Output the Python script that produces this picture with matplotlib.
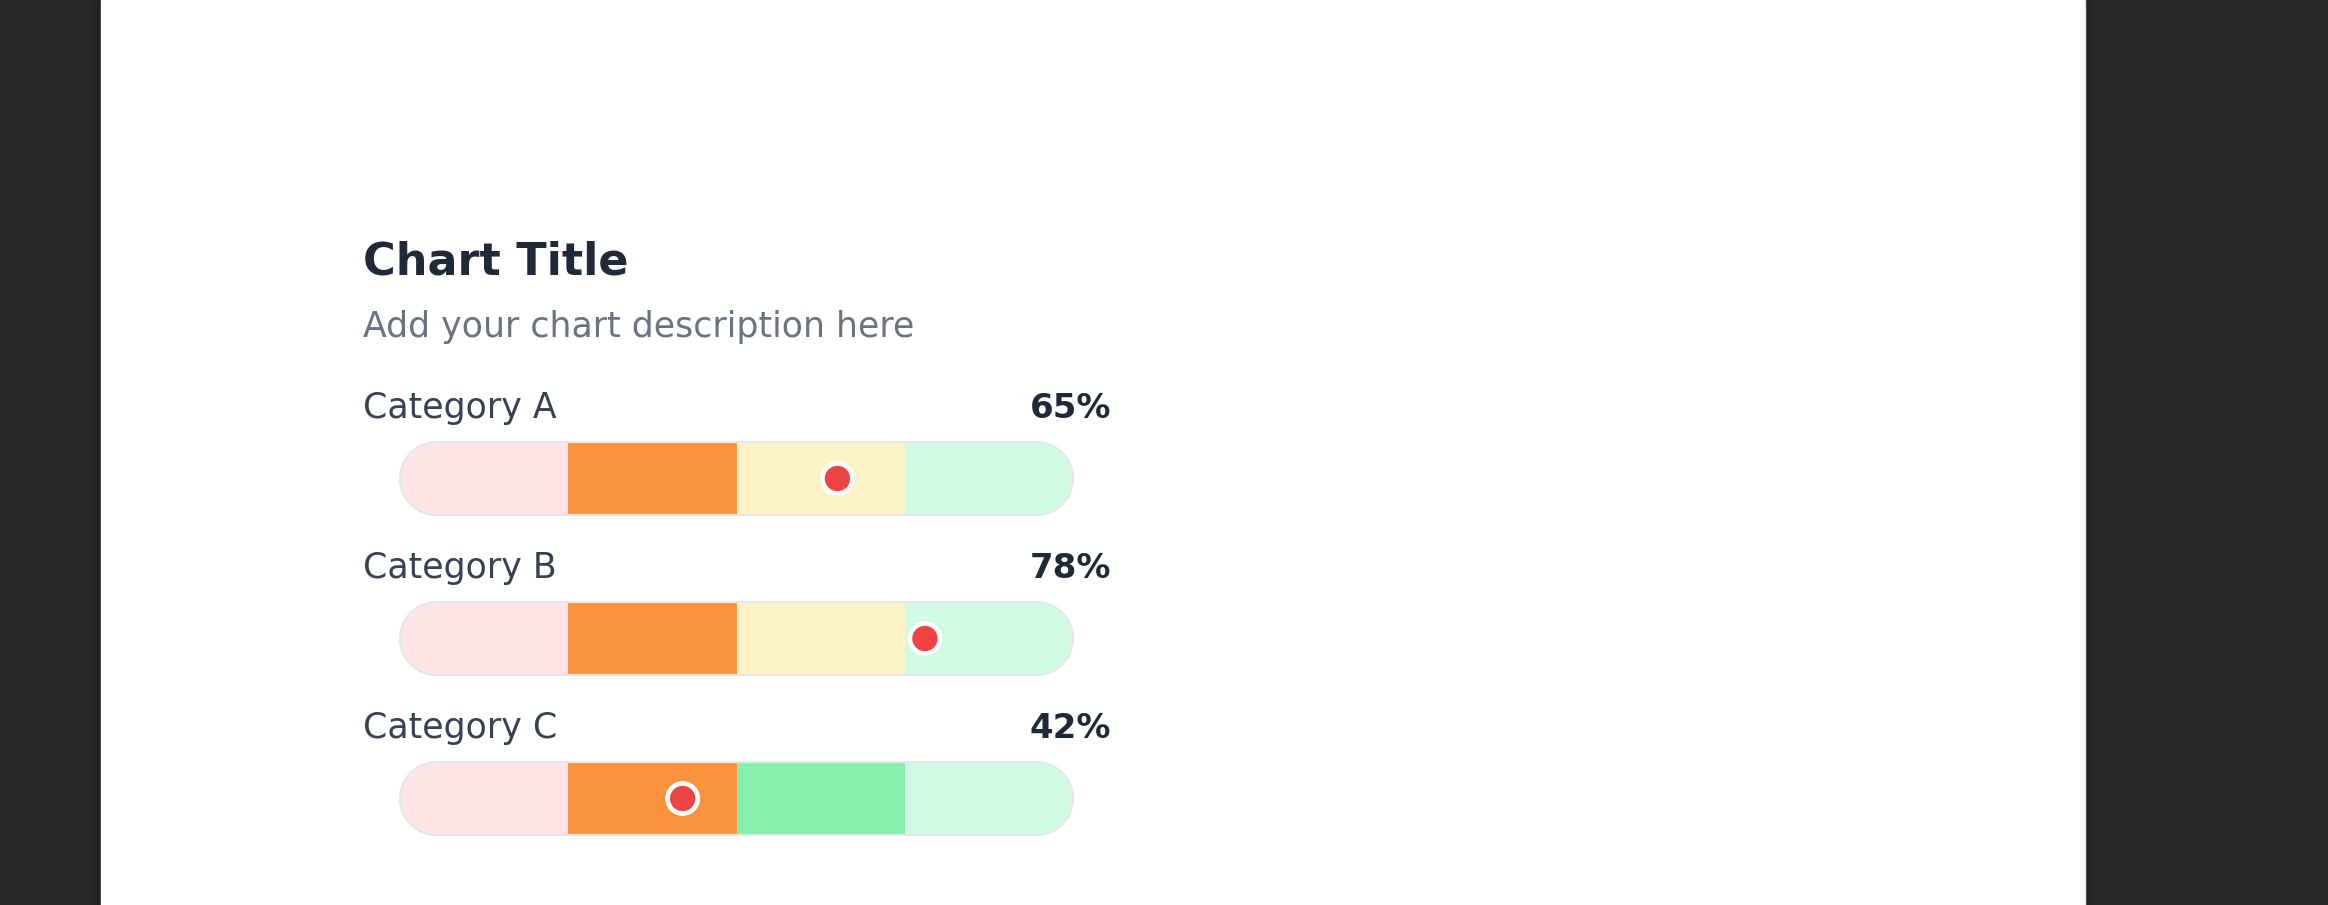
import matplotlib
matplotlib.use("Agg")
import numpy as np
import matplotlib.pyplot as plt
from matplotlib.patches import Rectangle, Polygon
import matplotlib.patheffects as pe

# chart data
categories = ["Category A", "Category B", "Category C"]
values = [65, 78, 42]
segment_starts = [0, 25, 50, 75]
segment_widths = [25, 25, 25, 25]
row_colors = [
    ["#ffe4e6", "#fb923c", "#fef3c7", "#d1fae5"],
    ["#ffe4e6", "#fb923c", "#fef3c7", "#d1fae5"],
    ["#ffe4e6", "#fb923c", "#86efac", "#d1fae5"],
]
title = "Chart Title"
subtitle = "Add your chart description here"

# layout (pixels)
W, H = 2328, 905
panel_left, panel_right = 101, 2085
text_left = 363
bar_left, bar_right = 400, 1073
bar_top = 442
bar_h_px = 73
row_gap = 160
pct_right = 1111

fig = plt.figure(figsize=(W / 100, H / 100), dpi=100)

# background in pixel coords
bg = fig.add_axes([0, 0, 1, 1])
bg.set_xlim(0, W)
bg.set_ylim(H, 0)
bg.axis("off")
bg.add_patch(Rectangle((0, 0), W, H, color="#282828", zorder=0))
bg.add_patch(Rectangle((panel_left, 0), panel_right - panel_left, H, color="white", zorder=1))
for k in range(10):
    a = 0.10 * (1 - k / 10)
    bg.add_patch(Rectangle((panel_left - k - 1, 0), 1, H, color="black", alpha=a, lw=0, zorder=1))
    bg.add_patch(Rectangle((panel_right + k, 0), 1, H, color="black", alpha=a, lw=0, zorder=1))

# title / subtitle
bg.text(text_left, 274, title, fontsize=32, fontweight="bold", color="#1f2937",
        ha="left", va="baseline", zorder=2)
bg.text(text_left, 337, subtitle, fontsize=25, color="#6b7280",
        ha="left", va="baseline", zorder=2)

# row labels
for i, (cat, v) in enumerate(zip(categories, values)):
    y = 418 + i * row_gap
    bg.text(text_left, y, cat, fontsize=25, color="#374151",
            ha="left", va="baseline", zorder=2)
    bg.text(pct_right, y, f"{v}%", fontsize=24.5, fontweight="bold", color="#1f2937",
            ha="right", va="baseline", zorder=2)

# bars axes, x is 0..100
n = len(categories)
bar_w_px = bar_right - bar_left
ax_h_px = (n - 1) * row_gap + bar_h_px
ax = fig.add_axes([bar_left / W, 1 - (bar_top + ax_h_px) / H, bar_w_px / W, ax_h_px / H])
bar_h = bar_h_px / row_gap
half = bar_h / 2
ax.set_xlim(0, 100)
ax.set_ylim(n - 1 + half, -half)
ax.axis("off")

# pill outline: semicircle ends, radius in x units
rx = (bar_h_px / 2) / (bar_w_px / 100)
t_left = np.linspace(np.pi / 2, 3 * np.pi / 2, 60)
t_right = np.linspace(-np.pi / 2, np.pi / 2, 60)


def pill(yc):
    xs = np.concatenate([rx + rx * np.cos(t_left), 100 - rx + rx * np.cos(t_right)])
    ys = np.concatenate([yc + half * np.sin(t_left), yc + half * np.sin(t_right)])
    return np.column_stack([xs, ys])


for i in range(n):
    frame = Polygon(pill(i), closed=True, facecolor="none",
                    edgecolor="#e5e7eb", linewidth=1.6, zorder=3)
    ax.add_patch(frame)
    frame.set_clip_on(False)
    bars = ax.barh([i] * len(segment_starts), segment_widths, left=segment_starts,
                   height=bar_h, color=row_colors[i], linewidth=0, zorder=1)
    for b in bars:
        b.set_clip_path(frame)

ax.scatter(values, range(n), s=470, c="#ef4444", edgecolors="white", linewidths=3.4,
           zorder=5, clip_on=False,
           path_effects=[pe.SimplePatchShadow(offset=(0, -1.5), shadow_rgbFace="black", alpha=0.22),
                         pe.Normal()])

fig.savefig("out.png", dpi=100)
